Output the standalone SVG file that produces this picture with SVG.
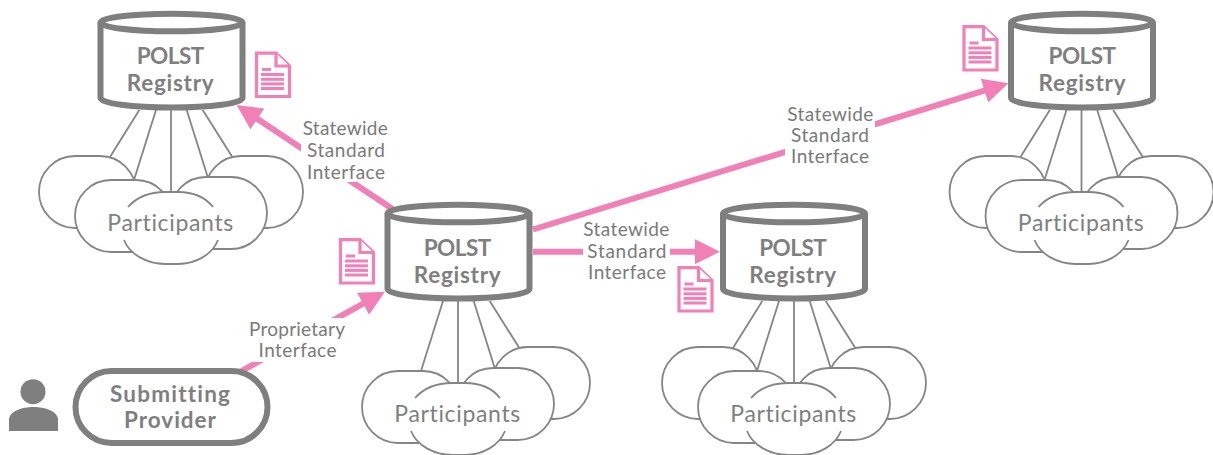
<svg xmlns="http://www.w3.org/2000/svg" width="1213" height="455" viewBox="0 0 1213 455">
<style>
text{font-family:"Lato","Liberation Sans",sans-serif;fill:#7f7f7f;font-variant-ligatures:none}
.b{font-weight:700;font-size:22.5px}
.p{font-size:23px;fill:#808080}
.l{font-size:19px;fill:#7a7a7a}
.cyl{fill:#fff;stroke:#7f7f7f;stroke-width:6}
.cloud{fill:#fff;stroke:#858585;stroke-width:1.8}
.cover{fill:#fff;stroke:none}
.arc{fill:none;stroke:#858585;stroke-width:1.8}
.spoke{stroke:#858585;stroke-width:1.8;fill:none}
.pink{stroke:#f27fb5;stroke-width:6;fill:none;marker-end:url(#head)}
.mask{fill:#fff;stroke:none}
.doc{fill:#fff;stroke:#f27fb5;stroke-width:3.2}
.bar{fill:#f27fb5}
</style>
<defs>
<marker id="head" markerUnits="userSpaceOnUse" viewBox="0 0 25 25" markerWidth="25" markerHeight="25" refX="12.500" refY="12.500" orient="auto"><path d="M0 0L25 12.500L0 25Z" fill="#f27fb5"/></marker>
<g id="cylinder">
<path class="cyl" d="M-71 22.500V98A71 9.500 0 0 0 71 98V22.500"/>
<ellipse class="cyl" cx="0" cy="22.500" rx="71" ry="8.800"/>
</g>
<g id="cloud-front">
<rect class="cloud" x="75" y="180" width="97" height="72" rx="36" ry="36"/>
<rect class="cloud" x="170" y="177" width="97" height="72" rx="36" ry="36"/>
<path class="cover" d="M124 240C130 255 148 264 165 264H178C195 264 212 255 218 240L213 207C205 197 193 192 178 192H165C150 192 137 197 128 207Z"/>
<path class="arc" d="M128 207C137 197 150 192 165 192H178C193 192 205 197 213 207"/>
<path class="arc" d="M124 240C130 255 148 264 165 264H178C195 264 212 255 218 240"/>
</g>
<rect id="cloud-left" class="cloud" x="39" y="156" width="97" height="72" rx="36" ry="36"/>
<rect id="cloud-right" class="cloud" x="205" y="156" width="98" height="72" rx="36" ry="36"/>
<g id="sheet">
<path class="doc" d="M256.500 53.200H276L289.500 66V96.500H256.500Z"/>
<path class="doc" d="M276 53.200V66H289.500"/>
<rect class="bar" x="262" y="68" width="9" height="3"/>
<rect class="bar" x="261" y="73" width="23" height="3"/>
<rect class="bar" x="261" y="77.800" width="23" height="3"/>
<rect class="bar" x="261" y="82.400" width="23" height="3"/>
<rect class="bar" x="261" y="87" width="23" height="3"/>
</g>
<g id="spokes-four">
<line class="spoke" x1="156" y1="110" x2="134.300" y2="179"/>
<line class="spoke" x1="171" y1="110" x2="171" y2="192"/>
<line class="spoke" x1="186.700" y1="110" x2="207.700" y2="177"/>
<line class="spoke" x1="202.700" y1="110" x2="232.300" y2="157"/>
</g>
</defs>

<g id="connectors">
<line class="spoke" x1="139.300" y1="110" x2="110" y2="157"/>
<use href="#spokes-four"/>
<use href="#spokes-four" transform="translate(287 191)"/>
<line class="spoke" x1="762.300" y1="301" x2="733" y2="348"/>
<use href="#spokes-four" transform="translate(623 191)"/>
<line class="spoke" x1="1049.800" y1="110" x2="1020.500" y2="157"/>
<use href="#spokes-four" transform="translate(910.500 0)"/>

<line id="edge-a" class="pink" x1="397" y1="212" x2="247" y2="112"/>
<rect class="mask" x="301" y="117" width="89" height="65"/>
<text class="l" x="302.700" y="134.500" textLength="85">Statewide</text>
<text class="l" x="307" y="156.500" textLength="78">Standard</text>
<text class="l" x="307" y="178.500" textLength="78">Interface</text>

<line id="edge-b" class="pink" x1="533" y1="229.500" x2="996.400" y2="86.900"/>
<rect class="mask" x="785" y="104" width="90" height="64"/>
<text class="l" x="787.300" y="121" textLength="86">Statewide</text>
<text class="l" x="791" y="142" textLength="78">Standard</text>
<text class="l" x="791" y="163" textLength="78">Interface</text>

<line id="edge-c" class="pink" x1="533" y1="251.700" x2="707.500" y2="251.700"/>
<rect class="mask" x="583" y="219" width="87" height="65"/>
<text class="l" x="583.300" y="236" textLength="86">Statewide</text>
<text class="l" x="587.300" y="258" textLength="79">Standard</text>
<text class="l" x="588" y="279" textLength="78">Interface</text>

<line id="edge-d" class="pink" x1="238" y1="373" x2="374" y2="297.700"/>
<rect class="mask" x="247" y="318" width="100" height="44"/>
<text class="l" x="249" y="335.500" textLength="96">Proprietary</text>
<text class="l" x="258.500" y="356.500" textLength="78">Interface</text>
</g>

<g id="participants-1">
<use href="#cloud-left"/><use href="#cloud-right"/><use href="#cloud-front"/>
<text class="p" x="107.300" y="231" textLength="126">Participants</text>
</g>
<g id="participants-2" transform="translate(287 191)">
<use href="#cloud-right"/><use href="#cloud-front"/>
<text class="p" x="107.300" y="231" textLength="126">Participants</text>
</g>
<g id="participants-3" transform="translate(623 191)">
<use href="#cloud-left"/><use href="#cloud-right"/><use href="#cloud-front"/>
<text class="p" x="107.300" y="231" textLength="126">Participants</text>
</g>
<g id="participants-4" transform="translate(910.500 0)">
<use href="#cloud-left"/><use href="#cloud-right"/><use href="#cloud-front"/>
<text class="p" x="107.300" y="231" textLength="126">Participants</text>
</g>

<g id="registry-1" transform="translate(171.500 0)">
<use href="#cylinder"/>
<text class="b" x="-34.800" y="64" textLength="67.500">POLST</text>
<text class="b" x="-44.800" y="91" textLength="87">Registry</text>
</g>
<g id="registry-2" transform="translate(458.500 191)">
<use href="#cylinder"/>
<text class="b" x="-34.800" y="65" textLength="67.500">POLST</text>
<text class="b" x="-44.800" y="92" textLength="87">Registry</text>
</g>
<g id="registry-3" transform="translate(794 191)">
<use href="#cylinder"/>
<text class="b" x="-34.800" y="65" textLength="67.500">POLST</text>
<text class="b" x="-44.800" y="92" textLength="87">Registry</text>
</g>
<g id="registry-4" transform="translate(1082 0)">
<use href="#cylinder"/>
<text class="b" x="-33.500" y="64" textLength="67.500">POLST</text>
<text class="b" x="-43.500" y="91" textLength="87">Registry</text>
</g>

<g id="document-1"><use href="#sheet"/></g>
<g id="document-2"><use href="#sheet" transform="translate(84 186.500)"/></g>
<g id="document-3"><use href="#sheet" transform="translate(422.500 214.500)"/></g>
<g id="document-4"><use href="#sheet" transform="translate(707.500 -26.500)"/></g>

<g id="submitting-provider">
<rect x="75.500" y="371" width="192" height="72" rx="36" ry="36" fill="#fff" stroke="#7f7f7f" stroke-width="6"/>
<text class="b" x="110" y="401.500" textLength="120">Submitting</text>
<text class="b" x="124" y="427.500" textLength="92">Provider</text>
</g>
<g id="person">
<circle cx="33" cy="391.700" r="12.500" fill="#7f7f7f"/>
<path d="M9 431V420C9 411 22 407 33.500 407C45 407 58 411 58 420V431Z" fill="#7f7f7f"/>
</g>
</svg>
